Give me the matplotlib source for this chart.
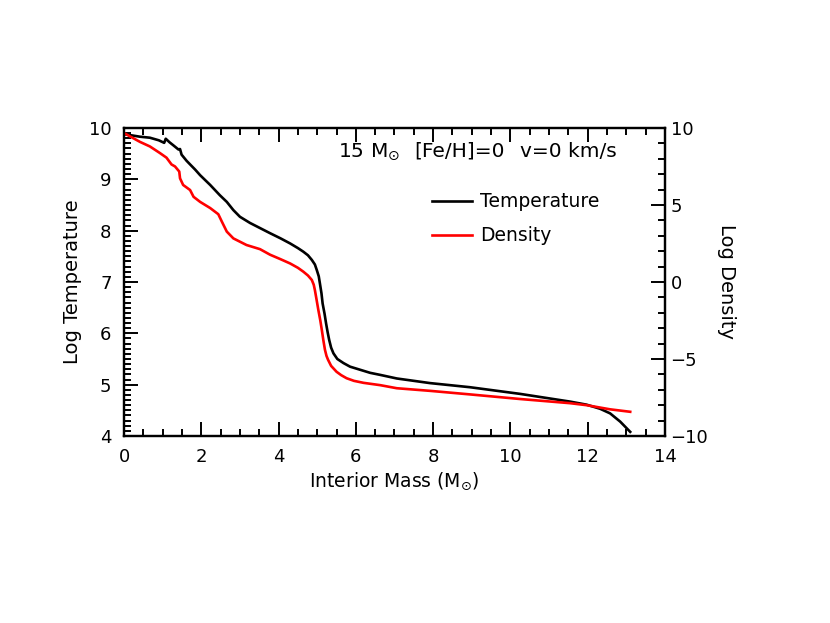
import numpy as np
import matplotlib
matplotlib.use('Agg')
import matplotlib.pyplot as plt
from matplotlib.ticker import MultipleLocator

# temperature profile (interior mass in Msun, log T)
mass_t = [0.0, 0.41, 0.67, 0.90, 1.04, 1.08, 1.18, 1.28, 1.41, 1.45, 1.49, 1.62, 1.71,
          1.84, 1.97, 2.23, 2.48, 2.66, 2.83, 3.0, 3.26, 3.52, 3.78, 4.05, 4.30, 4.50,
          4.64, 4.76, 4.86, 4.94, 4.99, 5.04, 5.07, 5.11, 5.14, 5.19, 5.23, 5.27, 5.31,
          5.36, 5.42, 5.52, 5.68, 5.85, 6.11, 6.37, 6.63, 7.06, 7.92, 8.95, 10.25,
          11.54, 11.97, 12.32, 12.58, 12.84, 13.10]
log_t = [9.88, 9.83, 9.81, 9.76, 9.71, 9.79, 9.72, 9.66, 9.58, 9.59, 9.48, 9.36, 9.29,
         9.19, 9.08, 8.89, 8.69, 8.56, 8.40, 8.27, 8.15, 8.05, 7.95, 7.85, 7.75, 7.66,
         7.59, 7.52, 7.43, 7.34, 7.23, 7.11, 6.97, 6.78, 6.58, 6.38, 6.19, 6.02, 5.87,
         5.72, 5.61, 5.50, 5.42, 5.35, 5.29, 5.23, 5.19, 5.12, 5.03, 4.95, 4.82,
         4.67, 4.61, 4.53, 4.44, 4.28, 4.08]

# density profile (interior mass in Msun, log rho)
mass_d = [0.0, 0.41, 0.67, 0.93, 1.10, 1.23, 1.32, 1.43, 1.45, 1.53, 1.71, 1.80, 1.97,
          2.23, 2.44, 2.53, 2.66, 2.83, 3.17, 3.52, 3.78, 4.05, 4.30, 4.50, 4.64, 4.76,
          4.86, 4.91, 4.94, 4.98, 5.03, 5.08, 5.12, 5.16, 5.20, 5.24, 5.28, 5.36, 5.50,
          5.62, 5.76, 5.95, 6.20, 6.63, 7.06, 7.92, 8.95, 10.25, 11.54, 11.97, 12.58,
          13.10]
log_d = [9.67, 9.10, 8.80, 8.37, 8.07, 7.63, 7.50, 7.17, 6.73, 6.30, 5.97, 5.53, 5.20,
         4.80, 4.40, 3.93, 3.27, 2.83, 2.40, 2.13, 1.77, 1.48, 1.20, 0.92, 0.67, 0.42,
         0.13, -0.18, -0.53, -1.10, -1.83, -2.50, -3.13, -3.80, -4.40, -4.80, -5.05,
         -5.45, -5.83, -6.05, -6.25, -6.42, -6.55, -6.70, -6.90, -7.07, -7.30, -7.60,
         -7.87, -8.00, -8.27, -8.43]

plt.rcParams['font.family'] = ['DejaVu Sans']
plt.rcParams['mathtext.fontset'] = 'dejavusans'

fig = plt.figure(figsize=(8.3, 6.23), dpi=100)
ax = fig.add_axes([0.1494, 0.3002, 0.6518, 0.4944])
ax2 = ax.twinx()

ax.plot(mass_t, log_t, color='black', lw=1.9, solid_joinstyle='round')
ax2.plot(mass_d, log_d, color='red', lw=1.9, solid_joinstyle='round')

ax.set_xlim(0, 14)
ax.set_ylim(4, 10)
ax2.set_ylim(-10, 10)

ax.xaxis.set_major_locator(MultipleLocator(2))
ax.xaxis.set_minor_locator(MultipleLocator(0.5))
ax.yaxis.set_major_locator(MultipleLocator(1))
ax.yaxis.set_minor_locator(MultipleLocator(0.1))
ax2.yaxis.set_major_locator(MultipleLocator(5))
ax2.yaxis.set_minor_locator(MultipleLocator(1))

for a in (ax, ax2):
    for s in a.spines.values():
        s.set_linewidth(1.6)
ax.tick_params(which='both', direction='in', top=True, right=False, width=1.4, labelsize=13, pad=9)
ax.tick_params(which='major', length=10)
ax.tick_params(which='minor', length=5)
ax2.tick_params(which='both', direction='in', width=1.4, labelsize=13, pad=4)
ax2.tick_params(which='major', length=10)
ax2.tick_params(which='minor', length=5)

ax.set_xlabel(r'Interior Mass (M$_{\odot}$)', fontsize=13.5, labelpad=3)
ax.set_ylabel('Log Temperature', fontsize=14, labelpad=5)
ax2.set_ylabel('Log Density', fontsize=14, rotation=-90, labelpad=20)

# header text, in data coordinates of the temperature axis
ax.text(5.54, 9.44, r'15 M$_{\odot}$', fontsize=14.5, va='baseline')
ax.text(7.5, 9.44, '[Fe/H]=0', fontsize=14.5, va='baseline')
ax.text(10.25, 9.44, 'v=0 km/s', fontsize=14.5, va='baseline')

ax.legend([ax.lines[0], ax2.lines[0]], ['Temperature', 'Density'], loc='upper left',
          bbox_to_anchor=(0.556, 0.815), frameon=False, fontsize=13.5, handlelength=2.1,
          handletextpad=0.45, labelspacing=0.78, borderaxespad=0)

fig.savefig('out.png', dpi=100)
